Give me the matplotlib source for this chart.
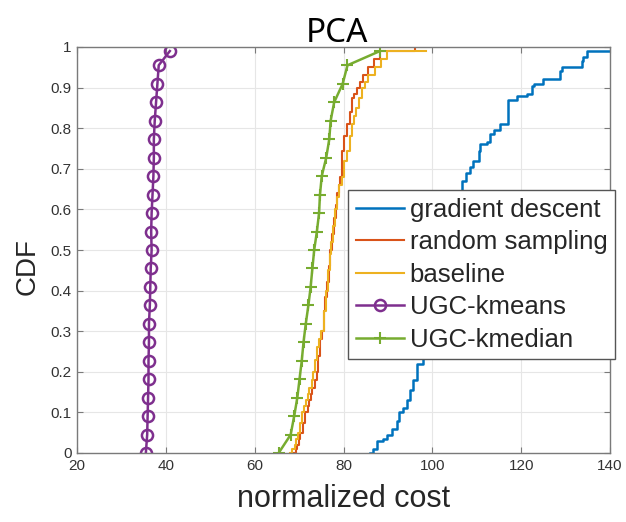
import matplotlib
matplotlib.use("Agg")
import matplotlib.pyplot as plt

# ---- data ----
gd_x = [86.0, 86.6, 87.5, 89.0, 89.7, 90.9, 92.0, 92.6, 93.5, 94.3, 95.0, 95.7, 96.6,
        98.0, 99.5, 101.0, 102.5, 104.0, 105.0, 105.5, 106.6, 107.6, 108.4, 109.1,
        110.6, 110.8, 112.3, 113.0, 113.8, 115.3, 117.1, 119.0, 121.3, 122.4, 122.8,
        125.0, 128.8, 129.2, 133.7, 134.0, 134.8, 140.0]
gd_y = [0.0, 0.01, 0.03, 0.035, 0.045, 0.06, 0.08, 0.10, 0.11, 0.13, 0.155, 0.18, 0.22,
        0.28, 0.35, 0.42, 0.50, 0.57, 0.62, 0.645, 0.67, 0.69, 0.705, 0.72,
        0.745, 0.76, 0.765, 0.785, 0.795, 0.81, 0.87, 0.88, 0.885, 0.905, 0.91,
        0.92, 0.94, 0.95, 0.965, 0.975, 0.99, 0.99]

rs_x = [68.8, 69.2, 69.5, 69.9, 70.3, 70.8, 71.4, 71.9, 72.3, 72.7, 73.0, 73.5, 74.0,
        74.3, 74.8, 75.1, 75.5, 75.9, 76.3, 76.7, 77.0, 77.4, 77.8, 78.2, 78.5, 78.9,
        79.2, 79.6, 80.2, 80.7, 81.4, 81.9, 82.4, 83.0, 83.8, 84.5, 85.6, 86.8, 88.2,
        96.0]
rs_y = [0.0, 0.01, 0.02, 0.035, 0.05, 0.075, 0.10, 0.115, 0.13, 0.145, 0.16, 0.18, 0.20,
        0.24, 0.28, 0.30, 0.35, 0.385, 0.42, 0.46, 0.50, 0.54, 0.58, 0.61, 0.64, 0.66,
        0.68, 0.745, 0.78, 0.81, 0.84, 0.875, 0.885, 0.90, 0.915, 0.93, 0.95, 0.97, 0.99,
        1.0]

bl_x = [68.0, 68.5, 69.0, 69.4, 69.8, 70.2, 70.6, 71.0, 71.5, 71.9, 72.3, 72.8, 73.2,
        73.6, 74.0, 74.5, 75.0, 75.5, 76.0, 76.5, 76.9, 77.2, 77.6, 78.0, 78.5, 79.0,
        79.6, 80.2, 80.7, 81.5, 81.9, 82.4, 82.8, 83.4, 84.1, 84.8, 85.5, 87.1, 88.5,
        89.8, 98.6]
bl_y = [0.0, 0.01, 0.02, 0.035, 0.05, 0.075, 0.10, 0.115, 0.13, 0.145, 0.16, 0.18, 0.20,
        0.23, 0.26, 0.28, 0.30, 0.35, 0.40, 0.45, 0.49, 0.52, 0.56, 0.60, 0.63, 0.66,
        0.68, 0.72, 0.745, 0.78, 0.81, 0.83, 0.85, 0.875, 0.90, 0.915, 0.93, 0.95, 0.97,
        0.99, 0.99]

ugc_y = [0.0, 0.045, 0.091, 0.136, 0.182, 0.227, 0.273, 0.318, 0.364, 0.409, 0.455,
         0.5, 0.545, 0.591, 0.636, 0.682, 0.727, 0.773, 0.818, 0.864, 0.909, 0.955, 0.99]
kmeans_x = [35.5, 35.8, 35.9, 36.0, 36.1, 36.1, 36.2, 36.2, 36.4, 36.5, 36.6, 36.8,
            36.7, 36.8, 37.0, 37.2, 37.3, 37.3, 37.5, 37.8, 38.1, 38.4, 40.9]
kmedian_x = [65.4, 68.1, 68.9, 69.6, 70.1, 70.6, 71.0, 71.5, 72.1, 72.6, 73.0, 73.4,
             74.0, 74.5, 74.7, 75.1, 76.1, 76.8, 77.1, 77.9, 79.8, 80.9, 88.2]

labels = ["gradient descent", "random sampling", "baseline", "UGC-kmeans", "UGC-kmedian"]
colors = ["#0072BD", "#D95319", "#EDB120", "#7E2F8E", "#77AC30"]
xticks = [20, 40, 60, 80, 100, 120, 140]
yticks = [0, 0.1, 0.2, 0.3, 0.4, 0.5, 0.6, 0.7, 0.8, 0.9, 1]
yticklabels = ["0", "0.1", "0.2", "0.3", "0.4", "0.5", "0.6", "0.7", "0.8", "0.9", "1"]

# ---- figure ----
plt.rcParams['font.family'] = ['Liberation Sans', 'DejaVu Sans']
W, H = 626, 522
fig = plt.figure(figsize=(W / 100, H / 100), dpi=100)
ax = fig.add_axes([77 / W, 1 - 453 / H, (610 - 77) / W, (453 - 47) / H])

ax.plot(gd_x, gd_y, drawstyle='steps-post', color=colors[0], lw=1.8, label=labels[0])
ax.plot(rs_x, rs_y, drawstyle='steps-post', color=colors[1], lw=1.5, label=labels[1])
ax.plot(bl_x, bl_y, drawstyle='steps-post', color=colors[2], lw=1.5, label=labels[2])
ax.plot(kmeans_x, ugc_y, color=colors[3], lw=1.8, marker='o', ms=8, mfc='none',
        mew=1.8, label=labels[3])
ax.plot(kmedian_x, ugc_y, color=colors[4], lw=1.8, marker='+', ms=9, mew=1.5,
        label=labels[4])

ax.set_xlim(20, 140)
ax.set_ylim(0, 1)
ax.set_xticks(xticks)
ax.set_yticks(yticks)
ax.set_yticklabels(yticklabels)
ax.grid(True, color='#e6e6e6', lw=0.8)
ax.set_axisbelow(True)
for s in ax.spines.values():
    s.set_color('#7a7a7a')
    s.set_linewidth(1.0)
ax.tick_params(direction='in', top=True, right=True, length=4, width=0.8,
               color='#7a7a7a', labelsize=11, labelcolor='#333333', pad=4)

ax.set_xlabel("normalized cost", fontsize=22, color='#262626', labelpad=8)
ax.set_ylabel("CDF", fontsize=20, color='#262626')
ax.yaxis.set_label_coords(-0.068, 0.46)
fig.text(337 / W, 1 - 33 / H, "PCA", fontsize=24, family=['Noto Sans', 'DejaVu Sans'],
         ha='center', va='center', color='black')

leg = ax.legend(loc='upper right', bbox_to_anchor=(615 / W, 1 - 190 / H),
                bbox_transform=fig.transFigure, fontsize=18.5, frameon=True,
                fancybox=False, framealpha=1, edgecolor='#555555',
                handlelength=1.9, handletextpad=0.2, labelspacing=0.33,
                borderpad=0.3, borderaxespad=0)
leg.get_frame().set_linewidth(1.0)
for t in leg.get_texts():
    t.set_color('#262626')

fig.savefig("out.png", dpi=100)
